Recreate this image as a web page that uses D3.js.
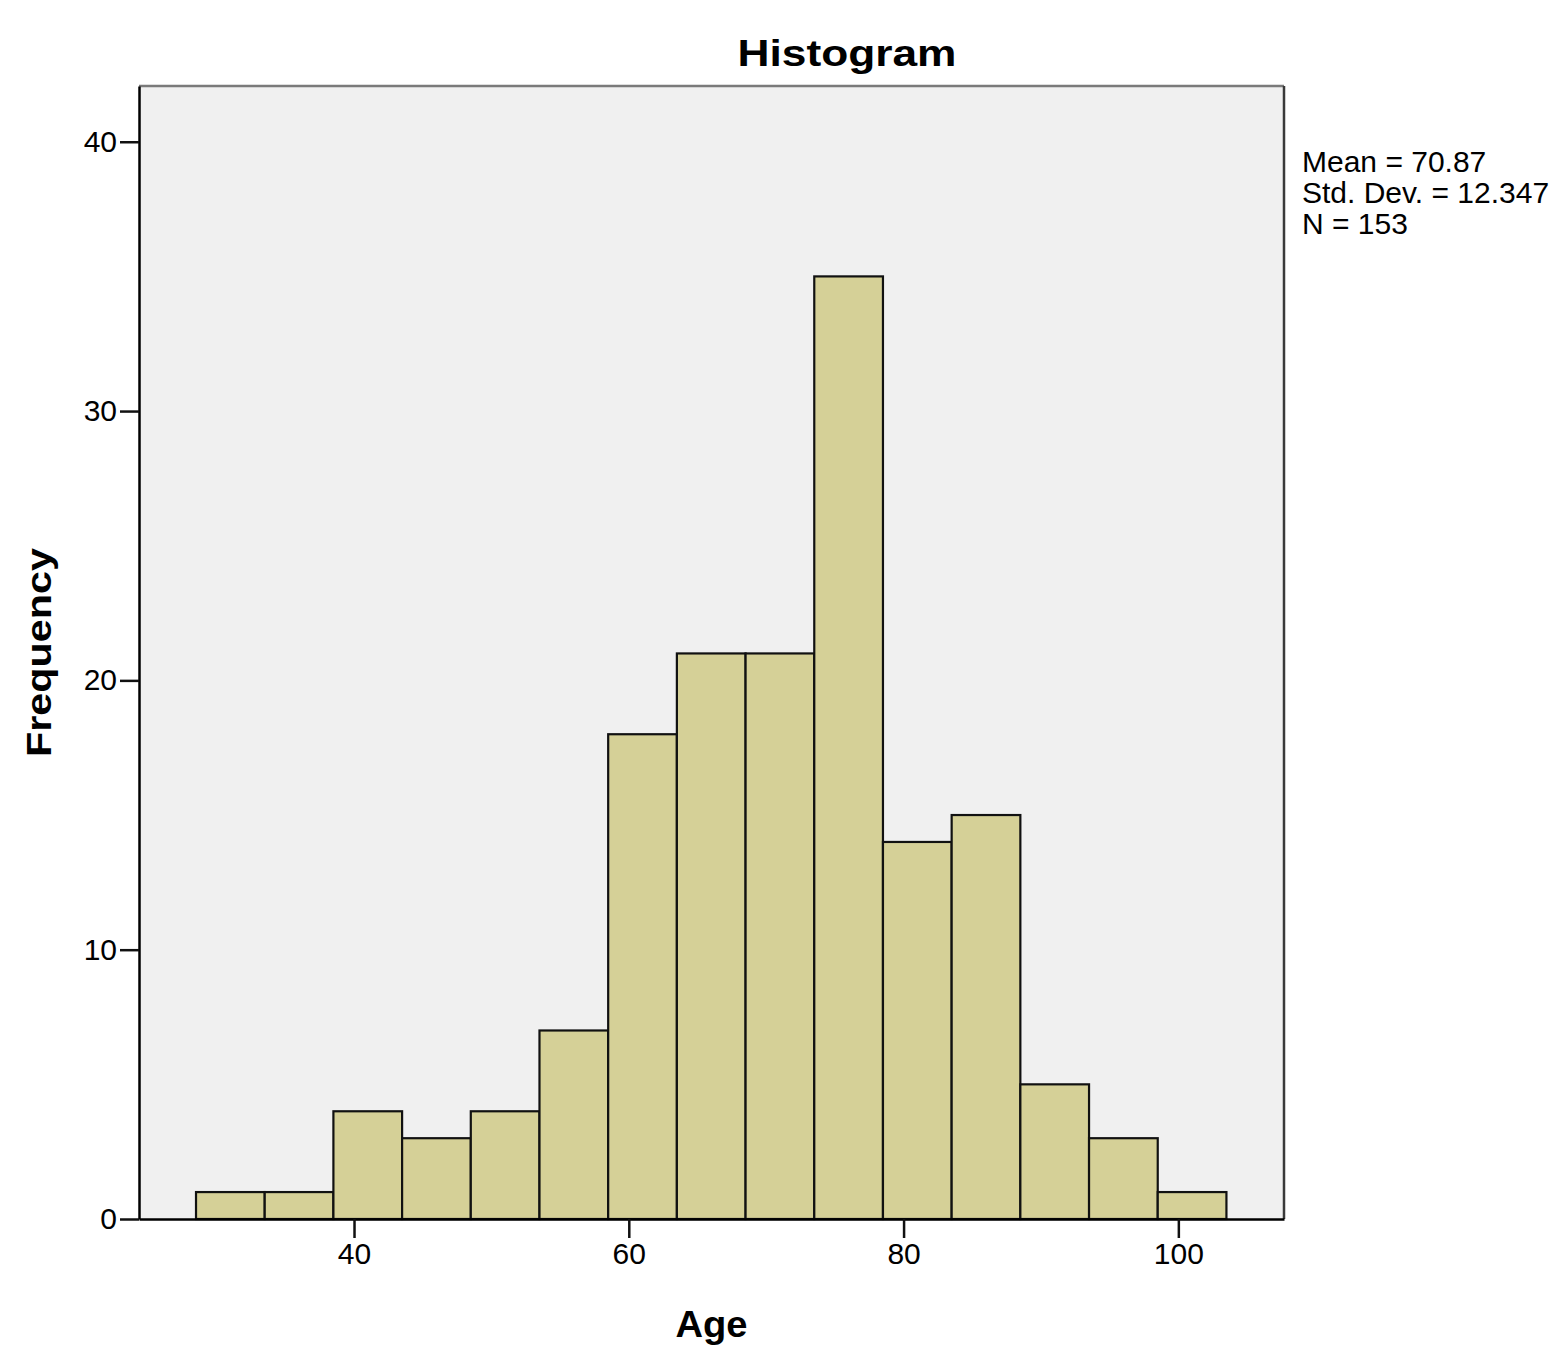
<!DOCTYPE html>
<html>
<head>
<meta charset="utf-8">
<script src="https://cdn.jsdelivr.net/npm/d3@7/dist/d3.min.js"></script>
<style>
  html, body { margin: 0; padding: 0; background: #ffffff; }
  svg { display: block; }
</style>
</head>
<body>
<script>
// ---- Data ----
const binEdges = [28.5, 33.5, 38.5, 43.5, 48.5, 53.5, 58.5, 63.5, 68.5, 73.5, 78.5, 83.5, 88.5, 93.5, 98.5, 103.5];
const counts   = [1, 1, 4, 3, 4, 7, 18, 21, 21, 35, 14, 15, 5, 3, 1];
const xTicks = [40, 60, 80, 100];
const yTicks = [0, 10, 20, 30, 40];
const statsLines = ["Mean = 70.87", "Std. Dev. = 12.347", "N = 153"];
const titleText = "Histogram";
const xLabel = "Age";
const yLabel = "Frequency";

// ---- Layout ----
const W = 1568, H = 1371;
const plot = { left: 139, right: 1284, top: 86, bottom: 1219 };
const FONT = "'Liberation Sans', Arial, sans-serif";

const svg = d3.select("body").append("svg")
  .attr("width", W).attr("height", H)
  .style("font-family", FONT);

const x = d3.scaleLinear().domain([24.35, 107.69]).range([plot.left, plot.right]);
const y = d3.scaleLinear().domain([0, 42.07]).range([plot.bottom, plot.top]);

// Plot background
svg.append("rect")
  .attr("x", plot.left).attr("y", plot.top)
  .attr("width", plot.right - plot.left).attr("height", plot.bottom - plot.top)
  .attr("fill", "#f0f0f0");

// Bars
const bins = counts.map((c, i) => ({ x0: binEdges[i], x1: binEdges[i + 1], c }));
svg.append("g").selectAll("rect").data(bins).join("rect")
  .attr("x", d => x(d.x0))
  .attr("y", d => y(d.c))
  .attr("width", d => x(d.x1) - x(d.x0))
  .attr("height", d => y(0) - y(d.c))
  .attr("fill", "#d5d097")
  .attr("stroke", "#111")
  .attr("stroke-width", 2.2);

// Frame: top and right (gray)
svg.append("line")
  .attr("x1", plot.left).attr("x2", plot.right)
  .attr("y1", plot.top).attr("y2", plot.top)
  .attr("stroke", "#7a7a7a").attr("stroke-width", 2.5);
svg.append("line")
  .attr("x1", plot.right).attr("x2", plot.right)
  .attr("y1", plot.top).attr("y2", plot.bottom)
  .attr("stroke", "#3a3a3a").attr("stroke-width", 2.5);

// Axes
const yAxis = d3.axisLeft(y).tickValues(yTicks).tickSize(19).tickSizeOuter(0).tickPadding(3).tickFormat(d3.format("d"));
const gy = svg.append("g").attr("transform", `translate(${plot.left},0)`).call(yAxis);
gy.select(".domain").attr("stroke", "#000").attr("stroke-width", 2.5);
gy.selectAll(".tick line").attr("stroke", "#111").attr("stroke-width", 2.5);
gy.selectAll(".tick text").attr("font-size", 30).attr("fill", "#000").attr("font-family", FONT);

const xAxis = d3.axisBottom(x).tickValues(xTicks).tickSize(19).tickSizeOuter(0).tickPadding(5).tickFormat(d3.format("d"));
const gx = svg.append("g").attr("transform", `translate(0,${plot.bottom})`).call(xAxis);
gx.select(".domain").attr("stroke", "#000").attr("stroke-width", 2.5);
gx.selectAll(".tick line").attr("stroke", "#111").attr("stroke-width", 2.5);
gx.selectAll(".tick text").attr("font-size", 30).attr("fill", "#000").attr("font-family", FONT);

// Title
svg.append("text")
  .attr("x", 847).attr("y", 66)
  .attr("text-anchor", "middle")
  .attr("font-size", 36).attr("font-weight", "bold")
  .attr("textLength", 219).attr("lengthAdjust", "spacingAndGlyphs")
  .text(titleText);

// Axis titles
svg.append("text")
  .attr("x", (plot.left + plot.right) / 2).attr("y", 1337)
  .attr("text-anchor", "middle")
  .attr("font-size", 37).attr("font-weight", "bold")
  .attr("textLength", 72).attr("lengthAdjust", "spacingAndGlyphs")
  .text(xLabel);

svg.append("text")
  .attr("transform", `translate(51,${(plot.top + plot.bottom) / 2}) rotate(-90)`)
  .attr("text-anchor", "middle")
  .attr("font-size", 35).attr("font-weight", "bold")
  .attr("textLength", 209).attr("lengthAdjust", "spacingAndGlyphs")
  .text(yLabel);

// Stats box
svg.append("g").selectAll("text").data(statsLines).join("text")
  .attr("x", 1302)
  .attr("y", (d, i) => 172 + i * 31)
  .attr("font-size", 30)
  .attr("fill", "#000")
  .text(d => d);
</script>
</body>
</html>
